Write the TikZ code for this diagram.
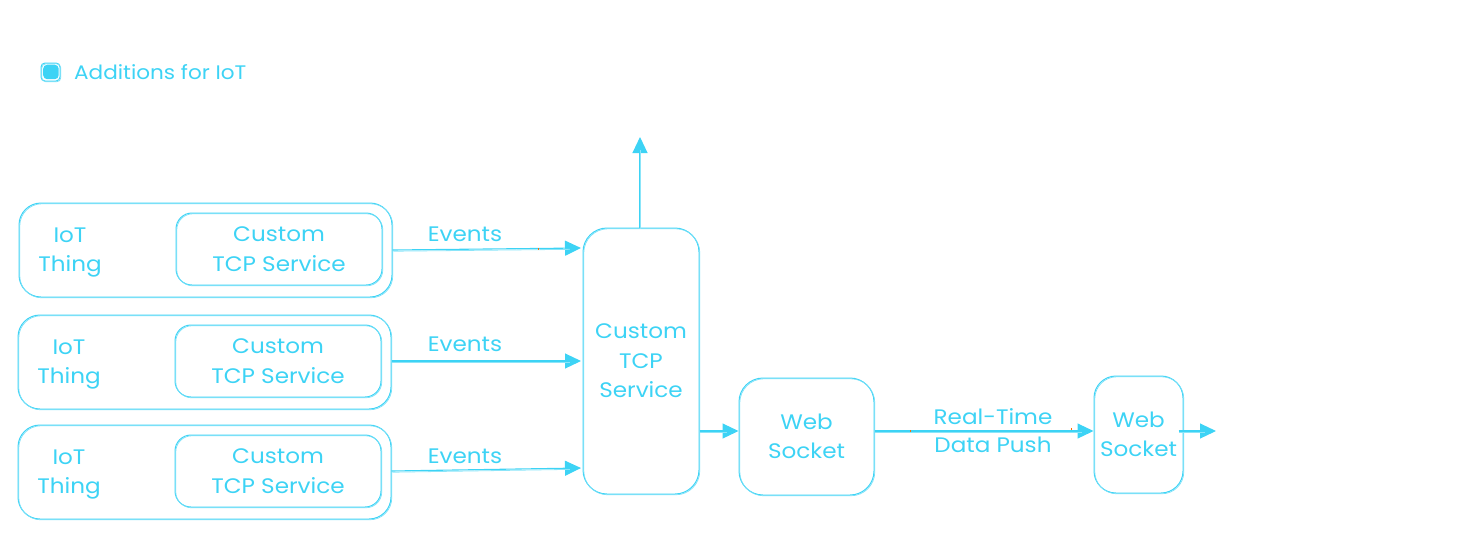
\documentclass[tikz,border=0pt]{standalone}
\usepackage{fontspec}
\setmainfont{Poppins}[FakeStretch=1.1]
\usetikzlibrary{arrows.meta}
\definecolor{sky}{HTML}{3DD3F5}
\tikzset{
  x=1pt,y=-1pt,
  every node/.style={text=sky,font=\fontsize{21}{29.5}\selectfont,inner sep=0pt,align=center},
  sketchbox/.style={draw=sky,line width=1pt,rounded corners=#1,anchor=north west,
    postaction={draw=sky!70,line width=0.7pt,transform canvas={shift={(0.8pt,-0.8pt)}}}},
  sketchbox/.default=20pt,
  flow/.style={draw=sky,line width=1.1pt,-{Triangle[length=16pt,width=15pt,fill=sky]},
    postaction={draw=sky!60,line width=0.8pt,-,shorten >=12pt,transform canvas={shift={(0.8pt,-1.2pt)}}}},
  tick/.style={draw=orange!85!red,line width=1pt}
}
\begin{document}
\begin{tikzpicture}
\useasboundingbox (0,0) rectangle (1461,558);
% legend
\node[sketchbox=4pt,minimum width=19pt,minimum height=18pt] (legend) at (40.5,62.5) {};
\node[draw=none,fill=sky,rounded corners=4pt,anchor=north west,minimum width=15.5pt,minimum height=14.5pt] (legendfill) at (43,64.5) {};
\node[anchor=west,font=\fontsize{19.6}{24}\selectfont] (legendtext) at (74,72) {Additions for IoT};
% things
\node[sketchbox=22pt,minimum width=373pt,minimum height=94pt] (thingA) at (18.5,202.5) {};
\node[sketchbox=16pt,minimum width=206pt,minimum height=72pt] (svcA) at (175.5,212.5) {Custom\\TCP Service};
\node (labA) at (70,252.5) {IoT\\Thing};
\node[sketchbox=22pt,minimum width=373pt,minimum height=94pt] (thingB) at (17.5,314.5) {};
\node[sketchbox=16pt,minimum width=206pt,minimum height=72pt] (svcB) at (174.5,324.5) {Custom\\TCP Service};
\node (labB) at (69,364.5) {IoT\\Thing};
\node[sketchbox=22pt,minimum width=373pt,minimum height=94pt] (thingC) at (17.5,424.5) {};
\node[sketchbox=16pt,minimum width=206pt,minimum height=72pt] (svcC) at (174.5,434.5) {Custom\\TCP Service};
\node (labC) at (69,474.5) {IoT\\Thing};
% right side
\node[sketchbox=24pt,minimum width=116pt,minimum height=266pt] (hub) at (582.5,227.5) {Custom\\TCP\\Service};
\node[sketchbox=24pt,minimum width=135pt,minimum height=117pt] (wsA) at (738.5,377.5) {Web\\Socket};
\node[sketchbox=22pt,minimum width=89pt,minimum height=117pt] (wsB) at (1093.5,375.5) {Web\\Socket};
% helper coordinates
\coordinate (rail) at (0,431);
\coordinate (topend) at (640,137);
\coordinate (rightend) at (1216,431);
\coordinate (inA) at (581,248);
\coordinate (inB) at (581,361);
\coordinate (inC) at (581,468);
% connectors
\draw[flow] (thingA.east) -- (inA);
\draw[flow] (thingB.east |- inB) -- (inB);
\draw[flow] ([yshift=1pt]thingC.east) -- (inC);
\draw[flow] (hub.north -| topend) -- (topend);
\draw[flow] (hub.east |- rail) -- (wsA.west |- rail);
\draw[flow] (wsA.east |- rail) -- (wsB.west |- rail);
\draw[flow] ([xshift=-5pt]wsB.east |- rail) -- (rightend);
% labels
\node (evA) at (465,234) {Events};
\node (evB) at (465,344) {Events};
\node (evC) at (465,456) {Events};
\node[font=\fontsize{21}{28}\selectfont] (rt) at (993,431) {Real-Time\\Data Push};
% ticks
\draw[tick] (538,248) -- (538,250);
\draw[tick] (910,430) -- (910,432);
\draw[tick] (1071,428) -- (1071,430);
\end{tikzpicture}
\end{document}
